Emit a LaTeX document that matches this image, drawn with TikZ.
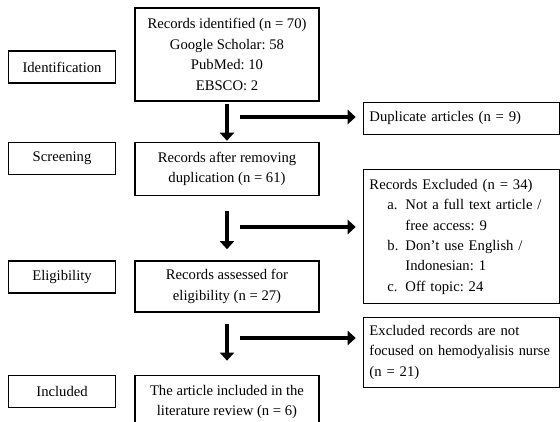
\documentclass[tikz,border=0pt]{standalone}
\usepackage{fontspec}
\setmainfont{Liberation Serif}
\usetikzlibrary{arrows.meta, positioning}
\frenchspacing

\begin{document}
\begin{tikzpicture}[
        x=0.75pt, y=-0.75pt,
        font=\fontsize{11}{15.3}\selectfont,
        stagebox/.style={
            draw,
            line width=1.1pt,
            minimum width=80.25pt,
            minimum height=24pt
        },
        mainbox/.style={
            draw,
            line width=1.1pt,
            align=center,
            minimum width=138pt
        },
        sidebox/.style={
            draw,
            line width=1.1pt,
            align=left,
            text width=138pt,
            inner xsep=4.5pt
        },
        flowlink/.style={-{Triangle[width=10.5pt, length=6pt]}, line width=3.5pt}
    ]
        \useasboundingbox (0,0) rectangle (560,421);

        \node[mainbox, minimum height=69.75pt] (identified) at (227,54.5)
            {Records identified (n = 70)\\Google Scholar: 58\\PubMed: 10\\EBSCO: 2};
        \node[mainbox, minimum height=39.75pt, below=30pt of identified] (deduplicated)
            {Records after removing\\duplication (n = 61)};
        \node[mainbox, minimum height=38.25pt, below=48pt of deduplicated] (assessed)
            {Records assessed for\\eligibility (n = 27)};
        \node[mainbox, minimum height=39.75pt, below=46.5pt of assessed] (includedarticles)
            {The article included in the\\literature review (n = 6)};

        \node[stagebox, left=13.5pt of identified, yshift=-9.4pt] (identification) {Identification};
        \node[stagebox, left=13.5pt of deduplicated.north west, anchor=north east] (screening) {Screening};
        \node[stagebox, left=13.5pt of assessed.north west, anchor=north east] (eligibility) {Eligibility};
        \node[stagebox, left=13.5pt of includedarticles.north west, anchor=north east] (inclusion) {Included};

        \node[sidebox, minimum height=24pt, right=32.25pt of identified.south east, anchor=north west] (duplicates)
            {Duplicate articles (n = 9)};
        \node[sidebox, minimum height=100.5pt, right=32.25pt of deduplicated.east, anchor=north west] (excludedfull)
            {Records Excluded (n = 34)\\
            \hspace*{13.5pt}\makebox[13.5pt][l]{a.}Not a full text article /\\
            \hspace*{27pt}free access: 9\\
            \hspace*{13.5pt}\makebox[13.5pt][l]{b.}Don't use English /\\
            \hspace*{27pt}Indonesian: 1\\
            \hspace*{13.5pt}\makebox[13.5pt][l]{c.}Off topic: 24};
        \node[sidebox, minimum height=52.5pt, right=32.25pt of assessed.south east, anchor=north west, yshift=-3pt] (excludedtopic)
            {Excluded records are not\\\scalebox{0.98}[1]{focused on hemodyalisis nurse}\\(n = 21)};

        \coordinate (duplicatefork) at (240,117);
        \coordinate (screenfork) at (240,227);
        \coordinate (topicfork) at (240,338);

        \draw[flowlink, shorten <=1.5pt, shorten >=0.75pt] (identified) -- (deduplicated);
        \draw[flowlink, shorten <=11.25pt, shorten >=8.25pt] (deduplicated) -- (assessed);
        \draw[flowlink, shorten <=8.25pt, shorten >=10.5pt] (assessed) -- (includedarticles);
        \draw[flowlink, shorten >=5.25pt] (duplicatefork) -- (duplicatefork -| duplicates.west);
        \draw[flowlink, shorten >=5.25pt] (screenfork) -- (screenfork -| excludedfull.west);
        \draw[flowlink, shorten >=5.25pt] (topicfork) -- (topicfork -| excludedtopic.west);
    \end{tikzpicture}
\end{document}
